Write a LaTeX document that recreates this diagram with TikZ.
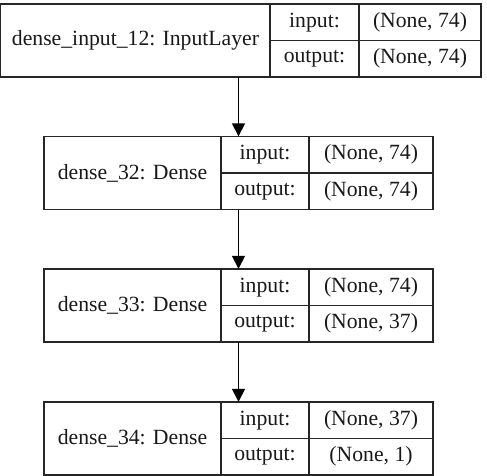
\documentclass[tikz,border=0pt]{standalone}
\usepackage{fontspec}
\setmainfont{Liberation Serif}
\usetikzlibrary{arrows.meta}
\begin{document}
\begin{tikzpicture}[x=1pt,y=-1pt,
  cell/.style={draw=black!85, line width=1.3pt, inner sep=0pt, minimum width=#1, minimum height=36.5pt, font=\fontsize{21.7}{25}\selectfont, text=black!90},
  namecell/.style={draw=black!85, line width=1.3pt, inner sep=0pt, minimum width=#1, minimum height=73pt, font=\fontsize{21.7}{25}\selectfont, text=black!90},
  layerbox/.style={inner sep=0pt, minimum width=#1, minimum height=73pt},
  arr/.style={line width=1.6pt, -{Triangle[length=13pt,width=13pt]}}]
\useasboundingbox (0,0) rectangle (487,476);
\fill[white] (0,0) rectangle (487,476);
% Layer 1
\node[layerbox=481pt] (L1) at (240.5,40.5) {};
\node[namecell=270pt] (n1) at (135.5,40.5) {dense\_input\_12: InputLayer};
\node[cell=89pt] (i1) at (314.5,22.25) {input:};
\node[cell=89pt] (o1) at (314.5,58.75) {output:};
\node[cell=122pt] (iv1) at (420,22.25) {(None, 74)};
\node[cell=122pt] (ov1) at (420,58.75) {(None, 74)};
% Layer 2
\node[layerbox=389pt] (L2) at (238.5,173) {};
\node[namecell=177pt] (n2) at (132.5,173) {dense\_32: Dense};
\node[cell=88pt] (i2) at (265,154.75) {input:};
\node[cell=88pt] (o2) at (265,191.25) {output:};
\node[cell=124pt] (iv2) at (371,154.75) {(None, 74)};
\node[cell=124pt] (ov2) at (371,191.25) {(None, 74)};
% Layer 3
\node[layerbox=389pt] (L3) at (238.5,305.5) {};
\node[namecell=177pt] (n3) at (132.5,305.5) {dense\_33: Dense};
\node[cell=88pt] (i3) at (265,287.25) {input:};
\node[cell=88pt] (o3) at (265,323.75) {output:};
\node[cell=124pt] (iv3) at (371,287.25) {(None, 74)};
\node[cell=124pt] (ov3) at (371,323.75) {(None, 37)};
% Layer 4
\node[layerbox=389pt] (L4) at (238.5,438.5) {};
\node[namecell=177pt] (n4) at (132.5,438.5) {dense\_34: Dense};
\node[cell=88pt] (i4) at (265,420.25) {input:};
\node[cell=88pt] (o4) at (265,456.75) {output:};
\node[cell=124pt] (iv4) at (371,420.25) {(None, 37)};
\node[cell=124pt] (ov4) at (371,456.75) {(None, 1)};
% Arrows
\draw[arr] (L2.north |- L1.south) -- (L2.north);
\draw[arr] (L2.south) -- (L3.north);
\draw[arr] (L3.south) -- (L4.north);
\end{tikzpicture}
\end{document}
